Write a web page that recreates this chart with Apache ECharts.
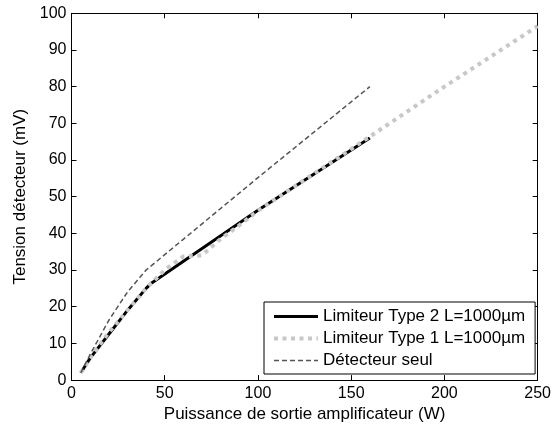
<!DOCTYPE html>
<html>
<head>
<meta charset="utf-8">
<script src="https://cdn.jsdelivr.net/npm/echarts@6/dist/echarts.min.js"></script>
<style>html,body{margin:0;padding:0;background:#fff}#c{width:554px;height:428px}</style>
</head>
<body>
<div id="c"></div>
<script>
// Data
var type2 = [[5, 2], [10, 6], [20, 12.5], [30, 19], [40, 25], [43, 26.5], [100, 46.3], [160, 66]];
var type1 = [[5, 2], [10, 6], [20, 13], [30, 19], [40, 25], [45, 27.5], [50, 30], [60, 33.7], [70, 34], [80, 38.5], [90, 42.2], [100, 46.2], [150, 63], [200, 80], [250, 96.5]];
var detecteur = [[5, 2], [10, 7], [20, 16.3], [30, 24], [40, 30], [100, 55.2], [160, 80]];
var seriesNames = ['Limiteur Type 2 L=1000\u00b5m', 'Limiteur Type 1 L=1000\u00b5m', 'D\u00e9tecteur seul'];
var xTitle = 'Puissance de sortie amplificateur (W)';
var yTitle = 'Tension d\u00e9tecteur (mV)';

var font = 'Liberation Sans, Arial, sans-serif';
var chart = echarts.init(document.getElementById('c'), null, {renderer: 'canvas'});
var axisBase = {
  axisLine: {show: true, onZero: false, lineStyle: {color: '#000', width: 1}},
  axisTick: {show: true, inside: true, length: 5, lineStyle: {color: '#000'}},
  splitLine: {show: false}
};
chart.setOption({
  animation: false,
  backgroundColor: '#fff',
  grid: {left: 71.5, right: 14.5, top: 13.3, bottom: 46.3, containLabel: false},
  xAxis: [
    Object.assign({}, axisBase, {
      type: 'value', min: 0, max: 250, interval: 50, position: 'bottom',
      name: xTitle, nameLocation: 'middle', nameGap: 25,
      nameTextStyle: {fontFamily: font, fontSize: 17, color: '#000'},
      axisLabel: {fontFamily: font, fontSize: 16, color: '#000', margin: 5}
    }),
    Object.assign({}, axisBase, {
      type: 'value', min: 0, max: 250, interval: 50, position: 'top',
      axisLabel: {show: false}
    })
  ],
  yAxis: [
    Object.assign({}, axisBase, {
      type: 'value', min: 0, max: 100, interval: 10, position: 'left',
      name: yTitle, nameLocation: 'middle', nameGap: 40,
      nameTextStyle: {fontFamily: font, fontSize: 17, color: '#000'},
      axisLabel: {fontFamily: font, fontSize: 16, color: '#000', margin: 5}
    }),
    Object.assign({}, axisBase, {
      type: 'value', min: 0, max: 100, interval: 10, position: 'right',
      axisLabel: {show: false}
    })
  ],
  legend: {
    left: 264, top: 302,
    orient: 'vertical',
    padding: [6, 10, 5, 8],
    itemGap: 5,
    itemWidth: 44, itemHeight: 14,
    backgroundColor: '#fff',
    borderColor: '#000', borderWidth: 1, borderRadius: 0,
    itemStyle: {opacity: 0},
    lineStyle: {width: 'inherit', type: 'inherit', color: 'inherit'},
    textStyle: {fontFamily: font, fontSize: 17, color: '#000'},
    data: seriesNames
  },
  series: [
    {name: seriesNames[0], type: 'line', data: type2, symbol: 'none',
     lineStyle: {color: '#000', width: 3, type: 'solid'}, itemStyle: {color: '#000'}},
    {name: seriesNames[1], type: 'line', data: type1, symbol: 'none',
     lineStyle: {color: '#c8c8c8', width: 4, type: [4, 4.5]}, itemStyle: {color: '#c8c8c8'}},
    {name: seriesNames[2], type: 'line', data: detecteur, symbol: 'none',
     lineStyle: {color: '#555', width: 1.5, type: [5, 3]}, itemStyle: {color: '#555'}}
  ]
});
</script>
</body>
</html>
